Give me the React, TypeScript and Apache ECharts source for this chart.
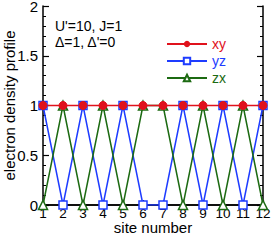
import React, { useEffect, useRef } from "react";
import * as echarts from "echarts";

const sites = [1, 2, 3, 4, 5, 6, 7, 8, 9, 10, 11, 12];
const xy = [1, 1, 1, 1, 1, 1, 1, 1, 1, 1, 1, 1];
const yz = [1, 0, 1, 0, 1, 0, 0, 1, 0, 1, 0, 1];
const zx = [0, 1, 0, 1, 0, 1, 1, 0, 1, 0, 1, 0];
const annotation = ["U'=10, J=1", "Δ=1, Δ'=0"];

const RED = "#e0121c";
const BLUE = "#1e3cff";
const GREEN = "#1c6a12";
const FONT = "Liberation Sans, Arial, sans-serif";

export default function App() {
  const ref = useRef<HTMLDivElement>(null);
  useEffect(() => {
    document.body.style.margin = "0";
    const chart = echarts.init(ref.current!, null, { renderer: "svg" });
    const pts = (arr: number[]) => sites.map((s, i) => [s, arr[i]]);
    const axisLine = { show: true, lineStyle: { color: "#000", width: 1.5 } };
    chart.setOption({
      animation: false,
      textStyle: { fontFamily: FONT },
      grid: { left: 43, right: 8, top: 6, bottom: 35, containLabel: false, outerBoundsMode: "none" },
      legend: {
        orient: "vertical",
        left: 166,
        top: 37,
        itemWidth: 40,
        itemHeight: 8,
        itemGap: 3,
        padding: 0,
        data: [
          { name: "xy", textStyle: { color: RED } },
          { name: "yz", textStyle: { color: BLUE } },
          { name: "zx", textStyle: { color: GREEN } },
        ],
        textStyle: { fontSize: 14, fontFamily: FONT },
      },
      graphic: [
        {
          type: "text",
          left: 55,
          top: 18,
          style: {
            text: annotation.join("\n"),
            font: "14px " + FONT,
            fill: "#000",
            lineHeight: 16,
          },
        },
      ],
      xAxis: [
        {
          type: "value",
          min: 1,
          max: 12,
          interval: 1,
          name: "site number",
          nameLocation: "middle",
          nameGap: 15,
          nameMoveOverlap: false,
          nameTextStyle: { fontSize: 15, color: "#000", fontFamily: FONT },
          axisLine,
          axisTick: { inside: true, length: 5, lineStyle: { color: "#000", width: 1.2 } },
          axisLabel: { color: "#000", fontSize: 13.5, margin: 1, fontFamily: FONT },
          splitLine: { show: false },
        },
        {
          type: "value",
          position: "top",
          min: 1,
          max: 12,
          interval: 1,
          axisLine,
          axisTick: { inside: true, length: 5, lineStyle: { color: "#000", width: 1.2 } },
          axisLabel: { show: false },
          splitLine: { show: false },
        },
      ],
      yAxis: [
        {
          type: "value",
          min: 0,
          max: 2,
          interval: 0.5,
          name: "electron density profile",
          nameLocation: "middle",
          nameGap: 26,
          nameMoveOverlap: false,
          nameTextStyle: { fontSize: 15, color: "#000", fontFamily: FONT },
          axisLine,
          axisTick: { inside: true, length: 6, lineStyle: { color: "#000", width: 1.2 } },
          minorTick: { show: true, splitNumber: 5, length: 3, lineStyle: { color: "#000", width: 1 } },
          axisLabel: { color: "#000", fontSize: 15, margin: 5, fontFamily: FONT },
          splitLine: { show: false },
          minorSplitLine: { show: false },
        },
        {
          type: "value",
          position: "right",
          min: 0,
          max: 2,
          interval: 0.5,
          axisLine,
          axisTick: { inside: true, length: 6, lineStyle: { color: "#000", width: 1.2 } },
          minorTick: { show: true, splitNumber: 5, length: 3, lineStyle: { color: "#000", width: 1 } },
          axisLabel: { show: false },
          splitLine: { show: false },
          minorSplitLine: { show: false },
        },
      ],
      series: [
        {
          name: "yz",
          type: "line",
          data: pts(yz),
          symbol: "rect",
          symbolSize: 8,
          lineStyle: { color: BLUE, width: 1.5 },
          itemStyle: { color: "#fff", borderColor: BLUE, borderWidth: 1.5 },
        },
        {
          name: "zx",
          type: "line",
          data: pts(zx),
          symbol: "triangle",
          symbolSize: 9,
          lineStyle: { color: GREEN, width: 1.5 },
          itemStyle: { color: "#fff", borderColor: GREEN, borderWidth: 1.5 },
        },
        {
          name: "xy",
          type: "line",
          data: pts(xy),
          symbol: "circle",
          symbolSize: 8,
          lineStyle: { color: RED, width: 1.5 },
          itemStyle: { color: RED, borderColor: RED },
        },
      ],
    });
    return () => chart.dispose();
  }, []);
  return <div ref={ref} style={{ width: 271, height: 240 }} />;
}
